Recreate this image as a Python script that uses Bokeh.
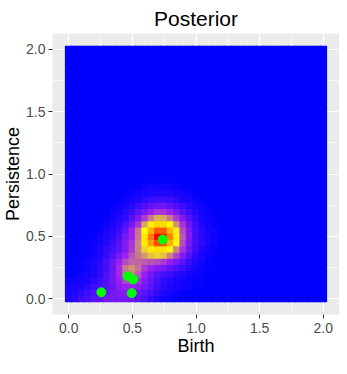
import numpy as np
from bokeh.plotting import figure
from bokeh.models import ColumnDataSource, SingleIntervalTicker, Range1d, FixedTicker
from bokeh.transform import linear_cmap
from bokeh.embed import file_html
from bokeh.resources import INLINE

# ---------------- data ----------------
title_text = "Posterior"
x_label = "Birth"
y_label = "Persistence"

grid_step = 0.05          # cell size of the posterior grid
grid_count = 41           # cells per side: 0.00 .. 2.00

# posterior intensity (0-100); row k is y = k*0.05,
# column m is x = m*0.05; every cell not listed is 0
intensity_rows = [
    [5, 6, 9, 11, 14, 15, 18, 19, 19, 19, 17, 15, 12, 8, 5, 3, 2, 1, 1, 0, 0, 0, 0, 0],
    [4, 5, 7, 9, 12, 14, 16, 19, 20, 21, 20, 17, 14, 11, 8, 5, 3, 2, 1, 0, 0, 0, 0, 0],
    [3, 4, 5, 7, 9, 11, 14, 17, 22, 24, 24, 22, 18, 14, 10, 7, 5, 4, 3, 2, 1, 1, 0, 0],
    [2, 2, 3, 4, 7, 9, 13, 18, 24, 29, 31, 27, 21, 16, 11, 8, 6, 4, 3, 2, 1, 1, 0, 0],
    [1, 1, 2, 3, 5, 8, 12, 18, 26, 34, 36, 31, 24, 18, 14, 11, 9, 7, 5, 3, 2, 1, 0, 0],
    [0, 1, 1, 2, 4, 7, 11, 17, 26, 35, 38, 34, 28, 24, 21, 19, 16, 12, 9, 6, 3, 2, 1, 0],
    [0, 1, 1, 2, 4, 6, 11, 17, 24, 30, 33, 33, 32, 31, 30, 28, 24, 19, 14, 9, 5, 3, 1, 0],
    [0, 0, 1, 1, 3, 5, 8, 13, 19, 25, 31, 35, 39, 43, 45, 43, 36, 29, 21, 13, 7, 4, 2, 0],
    [0, 0, 1, 1, 2, 5, 8, 11, 15, 21, 28, 36, 45, 55, 60, 58, 49, 37, 27, 17, 10, 5, 3, 1],
    [0, 0, 0, 1, 2, 3, 6, 9, 14, 21, 27, 36, 54, 75, 88, 87, 71, 49, 30, 19, 11, 7, 4, 2],
    [0, 0, 0, 0, 1, 3, 5, 7, 12, 19, 25, 35, 57, 81, 100, 98, 79, 54, 32, 20, 11, 6, 4, 2],
    [0, 0, 0, 0, 0, 1, 4, 6, 9, 16, 25, 34, 50, 72, 86, 86, 70, 48, 30, 20, 11, 6, 3, 2],
    [0, 0, 0, 0, 0, 0, 2, 4, 7, 12, 18, 27, 40, 54, 61, 60, 52, 38, 27, 17, 10, 5, 3, 1],
    [0, 0, 0, 0, 0, 0, 1, 3, 5, 8, 13, 20, 28, 35, 41, 41, 35, 28, 20, 13, 8, 4, 2, 1],
    [0, 0, 0, 0, 0, 0, 0, 2, 3, 6, 9, 14, 19, 24, 27, 27, 24, 19, 14, 9, 6, 3, 2, 0],
    [0, 0, 0, 0, 0, 0, 0, 1, 2, 4, 6, 9, 12, 15, 17, 17, 15, 12, 9, 6, 4, 2, 1, 0],
    [0, 0, 0, 0, 0, 0, 0, 0, 1, 2, 4, 5, 7, 9, 10, 10, 9, 7, 5, 4, 2, 1, 0, 0],
    [0, 0, 0, 0, 0, 0, 0, 0, 0, 1, 2, 3, 4, 5, 5, 5, 5, 4, 3, 2, 1, 0, 0, 0],
    [0, 0, 0, 0, 0, 0, 0, 0, 0, 0, 0, 1, 2, 3, 3, 3, 3, 2, 1, 0, 0, 0, 0, 0],
    [0, 0, 0, 0, 0, 0, 0, 0, 0, 0, 0, 0, 0, 1, 1, 1, 1, 0, 0, 0, 0, 0, 0, 0],
]

# observed points (green)
point_birth = [0.256, 0.464, 0.508, 0.495, 0.738]
point_persistence = [0.051, 0.179, 0.154, 0.044, 0.474]

tick_values = [0.0, 0.5, 1.0, 1.5, 2.0]
tick_labels = ["0.0", "0.5", "1.0", "1.5", "2.0"]

# colour scale stops: blue -> purple -> yellow -> orange -> red
scale_stops = ["#0000FF", "#A020F0", "#FFFF00", "#FFA500", "#FF0000"]

# ---------------- build ----------------
def hex_to_rgb(h):
    h = h.lstrip("#")
    return np.array([int(h[k:k + 2], 16) for k in (0, 2, 4)], dtype=float)

stops_rgb = [hex_to_rgb(c) for c in scale_stops]
palette = []
n_pal = 256
for k in range(n_pal):
    t = k / (n_pal - 1) * (len(stops_rgb) - 1)
    a = min(int(t), len(stops_rgb) - 2)
    f = t - a
    c = stops_rgb[a] * (1 - f) + stops_rgb[a + 1] * f
    palette.append("#%02x%02x%02x" % tuple(int(round(v)) for v in c))

xs, ys, vs = [], [], []
for j in range(grid_count):
    for i in range(grid_count):
        v = 0
        if j < len(intensity_rows) and i < len(intensity_rows[j]):
            v = intensity_rows[j][i]
        xs.append(i * grid_step)
        ys.append(j * grid_step)
        vs.append(v)
src = ColumnDataSource(dict(x=xs, y=ys, v=vs))

half = grid_step / 2
lo = -half
hi = (grid_count - 1) * grid_step + half
pad = 0.05 * (hi - lo)

FONT = "Liberation Sans"

p = figure(width=339, height=358, output_backend="svg", toolbar_location=None,
           x_range=Range1d(lo - pad, hi + pad), y_range=Range1d(lo - pad, hi + pad),
           min_border_left=0, min_border_right=0, min_border_top=0, min_border_bottom=0,
           background_fill_color="#EBEBEB", border_fill_color="white")
p.outline_line_color = None

p.title.text = title_text
p.title.align = "center"
p.title.text_font = FONT
p.title.text_font_size = "21px"
p.title.text_font_style = "normal"
p.title.text_color = "black"
p.title.standoff = 8
p.title.offset = 0

cmap = linear_cmap("v", palette, 0, 100)
p.rect(x="x", y="y", width=grid_step * 1.2, height=grid_step * 1.2, source=src,
       fill_color=cmap, line_color=None)

p.scatter(point_birth, point_persistence, size=9, color="#00FF00", line_color="#00FF00")

for ax, lab in ((p.xaxis[0], x_label), (p.yaxis[0], y_label)):
    ax.ticker = FixedTicker(ticks=tick_values)
    ax.major_label_overrides = {tv: tl for tv, tl in zip(tick_values, tick_labels)}
    ax.axis_label = lab
    ax.axis_label_text_font = FONT
    ax.axis_label_text_font_size = "18px"
    ax.axis_label_text_font_style = "normal"
    ax.axis_label_text_color = "black"
    ax.major_label_text_font = FONT
    ax.major_label_text_font_size = "14px"
    ax.major_label_text_color = "#4D4D4D"
    ax.axis_line_color = None
    ax.major_tick_line_color = "#333333"
    ax.major_tick_out = 4
    ax.major_tick_in = 0
    ax.minor_tick_line_color = None

p.xaxis[0].major_label_standoff = 4
p.xaxis[0].axis_label_standoff = 0
p.yaxis[0].major_label_standoff = 3
p.yaxis[0].axis_label_standoff = 0

for g in (p.xgrid[0], p.ygrid[0]):
    g.ticker = SingleIntervalTicker(interval=0.5, num_minor_ticks=2)
    g.grid_line_color = "white"
    g.grid_line_width = 1.2
    g.minor_grid_line_color = "white"
    g.minor_grid_line_width = 0.6

open("out.html", "w").write(file_html(p, INLINE))
